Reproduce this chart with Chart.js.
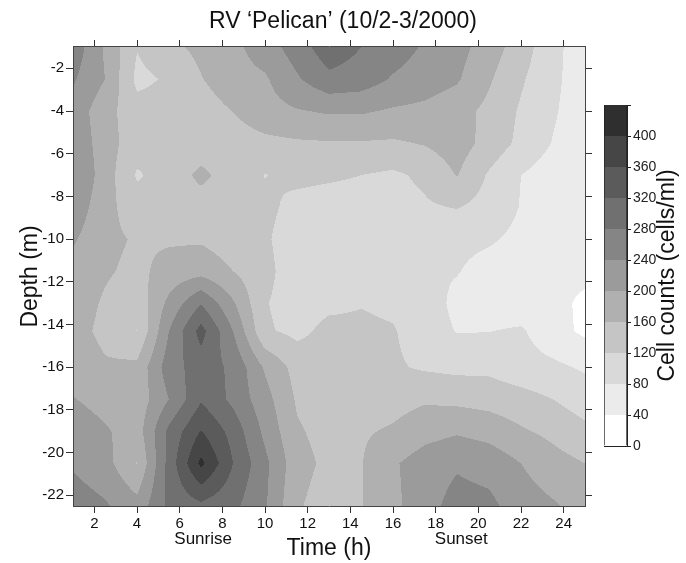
<!DOCTYPE html>
<html><head><meta charset="utf-8">
<script src="https://cdn.jsdelivr.net/npm/chart.js@4"></script>
<style>
html,body{margin:0;padding:0;background:#fff;}
#wrap{position:relative;width:686px;height:563px;overflow:hidden;}
canvas{position:absolute;left:0;top:0;}
</style></head><body>
<div id="wrap">
<canvas id="main" width="686" height="563"></canvas>
<canvas id="bar" width="686" height="563"></canvas>
</div>
<script>
// Sampling grid (time in h, depth in m)
const times  = [1, 2.5, 4, 5.5, 7, 8.5, 10, 11.5, 13, 14.5, 16, 17.5, 19, 20.5, 22, 23.5, 25];
const depths = [-1, -2.5, -4, -5.5, -7, -8.5, -10, -11.5, -13, -14.3, -16, -17.5, -19, -20.5, -22.5];

// Cell counts (cells/ml), one array per depth, values along times
const cells_d1_0  = [265, 195, 122, 150, 170, 190, 220, 260, 305, 280, 260, 235, 215, 180, 140, 90, 60];
const cells_d2_5  = [245, 200, 110, 125, 158, 185, 195, 235, 270, 262, 236, 220, 205, 165, 125, 90, 55];
const cells_d4_0  = [225, 175, 135, 135, 140, 161, 185, 197, 205, 205, 195, 190, 175, 150, 115, 85, 55];
const cells_d5_5  = [230, 180, 135, 130, 135, 140, 150, 155, 157, 157, 155, 163, 180, 145, 110, 78, 55];
const cells_d7_0  = [243, 180, 116, 135, 170, 140, 119, 128, 125, 120, 113, 128, 162, 115, 80, 60, 50];
const cells_d8_5  = [225, 175, 135, 140, 140, 135, 128, 110, 105, 105, 105, 115, 122, 105, 78, 55, 50];
const cells_d10_0 = [205, 170, 156, 155, 155, 140, 125, 100, 95, 95, 95, 95, 90, 85, 70, 55, 48];
const cells_d11_5 = [185, 165, 150, 175, 185, 160, 130, 100, 95, 90, 90, 85, 82, 65, 55, 48, 50];
const cells_d13_0 = [180, 155, 135, 210, 278, 205, 122, 105, 112, 118, 112, 100, 70, 60, 55, 52, 32];
const cells_d14_3 = [175, 150, 119, 240, 335, 240, 125, 110, 130, 128, 123, 100, 78, 79, 85, 55, 32];
const cells_d16_0 = [185, 165, 170, 262, 300, 272, 195, 145, 140, 135, 125, 115, 110, 110, 95, 88, 75];
const cells_d17_5 = [202, 185, 175, 240, 315, 270, 215, 155, 140, 140, 145, 155, 150, 145, 135, 120, 100];
const cells_d19_0 = [225, 205, 180, 290, 362, 305, 230, 165, 145, 155, 165, 185, 195, 185, 165, 150, 130];
const cells_d20_5 = [235, 215, 158, 295, 410, 320, 250, 175, 150, 158, 195, 220, 235, 225, 200, 175, 160];
const cells_d22_5 = [260, 245, 215, 290, 310, 290, 245, 165, 140, 158, 190, 225, 255, 250, 220, 205, 185];
const cellRows = [cells_d1_0, cells_d2_5, cells_d4_0, cells_d5_5, cells_d7_0, cells_d8_5, cells_d10_0,
  cells_d11_5, cells_d13_0, cells_d14_3, cells_d16_0, cells_d17_5, cells_d19_0, cells_d20_5, cells_d22_5];

// Axis ticks
const timeTicks  = [2, 4, 6, 8, 10, 12, 14, 16, 18, 20, 22, 24];
const depthTicks = [-2, -4, -6, -8, -10, -12, -14, -16, -18, -20, -22];

// Contour levels and colours
const levels     = [0, 40, 80, 120, 160, 200, 240, 280, 320, 360, 400, 440];
const bandColors = ['#ffffff', '#ebebeb', '#d9d9d9', '#c5c5c5', '#b0b0b0', '#9b9b9b',
                    '#858585', '#707070', '#5b5b5b', '#464646', '#2f2f2f'];

// Event annotations
const eventTimes = [7.1, 19.2];
const eventNames = ['Sunrise', 'Sunset'];

const FONT = "'Liberation Sans', Arial, Helvetica, sans-serif";
Chart.defaults.font.family = FONT;
Chart.defaults.color = '#111';

// points of the grid as a dataset
const gridPoints = [];
depths.forEach((d, j) => times.forEach((t, i) => gridPoints.push({x: t, y: d, v: cellRows[j][i]})));

function locate(arr, v) {
  for (let i = 0; i < arr.length - 1; i++) {
    const a = arr[i], b = arr[i + 1];
    if ((v - a) * (v - b) <= 0) return [i, (v - a) / (b - a)];
  }
  if (Math.abs(v - arr[0]) < Math.abs(v - arr[arr.length - 1])) return [0, 0];
  return [arr.length - 2, 1];
}
function hexToRgb(h) { return [parseInt(h.substr(1,2),16), parseInt(h.substr(3,2),16), parseInt(h.substr(5,2),16)]; }

const contourPlugin = {
  id: 'contourFill',
  beforeDraw(chart) {
    const {ctx, chartArea: a, scales} = chart;
    const ds = chart.data.datasets[0].data;
    const nT = times.length;
    const val = (j, i) => ds[j * nT + i].v;
    const x0 = Math.floor(a.left), x1 = Math.ceil(a.right), y0 = Math.floor(a.top), y1 = Math.ceil(a.bottom);
    const w = x1 - x0, h = y1 - y0;
    const off = document.createElement('canvas');
    off.width = w; off.height = h;
    const octx = off.getContext('2d');
    const img = octx.createImageData(w, h);
    const rgb = bandColors.map(hexToRgb);
    const colLoc = [], rowLoc = [];
    for (let px = 0; px < w; px++) colLoc.push(locate(times, scales.x.getValueForPixel(x0 + px + 0.5)));
    for (let py = 0; py < h; py++) rowLoc.push(locate(depths, scales.y.getValueForPixel(y0 + py + 0.5)));
    for (let py = 0; py < h; py++) {
      const [j, g] = rowLoc[py];
      for (let px = 0; px < w; px++) {
        const [i, f] = colLoc[px];
        const v = (1 - g) * ((1 - f) * val(j, i) + f * val(j, i + 1)) + g * ((1 - f) * val(j + 1, i) + f * val(j + 1, i + 1));
        let b = Math.floor(v / 40); if (b < 0) b = 0; if (b > 10) b = 10;
        const c = rgb[b], k = (py * w + px) * 4;
        img.data[k] = c[0]; img.data[k+1] = c[1]; img.data[k+2] = c[2]; img.data[k+3] = 255;
      }
    }
    octx.putImageData(img, 0, 0);
    ctx.save();
    ctx.beginPath(); ctx.rect(a.left, a.top, a.right - a.left, a.bottom - a.top); ctx.clip();
    ctx.drawImage(off, x0, y0);
    ctx.restore();
  },
  afterDraw(chart) {
    const {ctx, scales} = chart;
    ctx.save();
    ctx.fillStyle = '#111';
    ctx.font = '17px ' + FONT;
    ctx.textAlign = 'center'; ctx.textBaseline = 'middle';
    eventTimes.forEach((t, k) => ctx.fillText(eventNames[k], scales.x.getPixelForValue(t), 539));
    ctx.restore();
  }
};

const tickGrid = {drawOnChartArea: false, drawTicks: true, tickLength: 7, color: '#333', lineWidth: 1};
const border = {display: true, color: '#444', width: 1};

new Chart(document.getElementById('main'), {
  type: 'scatter',
  data: {datasets: [{data: gridPoints, pointRadius: 0, pointHoverRadius: 0, showLine: false}]},
  plugins: [contourPlugin],
  options: {
    responsive: false, animation: false, devicePixelRatio: 1,
    layout: {padding: 0},
    events: [],
    plugins: {
      legend: {display: false}, tooltip: {enabled: false},
      title: {display: true, text: 'RV \u2018Pelican\u2019 (10/2-3/2000)', color: '#111',
        font: {size: 23, weight: 'normal', family: FONT}, padding: {top: 8, bottom: 0}}
    },
    scales: {
      x: {type: 'linear', position: 'bottom', min: 1, max: 25,
        afterBuildTicks: s => { s.ticks = timeTicks.map(v => ({value: v})); },
        ticks: {font: {size: 15}, color: '#111', padding: 2, maxRotation: 0, autoSkip: false},
        grid: tickGrid, border: border,
        title: {display: true, text: 'Time (h)', font: {size: 23}, color: '#111', padding: {top: 0, bottom: 1}},
        afterFit: s => { s.height = 57; }},
      x2: {type: 'linear', position: 'top', min: 1, max: 25,
        afterBuildTicks: s => { s.ticks = timeTicks.map(v => ({value: v})); },
        ticks: {display: false}, grid: tickGrid, border: border,
        afterFit: s => { s.height = 11.4; }},
      y: {type: 'linear', position: 'left', min: -22.5, max: -1,
        afterBuildTicks: s => { s.ticks = depthTicks.map(v => ({value: v})); },
        ticks: {font: {size: 15}, color: '#111', padding: 2, autoSkip: false},
        grid: tickGrid, border: border,
        title: {display: true, text: 'Depth (m)', font: {size: 23}, color: '#111', padding: {top: 17, bottom: 0}},
        afterFit: s => { s.width = 73; }},
      y2: {type: 'linear', position: 'right', min: -22.5, max: -1,
        afterBuildTicks: s => { s.ticks = depthTicks.map(v => ({value: v})); },
        ticks: {display: false}, grid: tickGrid, border: border,
        afterFit: s => { s.width = 101; }}
    }
  }
});

// Colour bar
const cbTitlePlugin = {
  id: 'cbTitle',
  afterDraw(chart) {
    const {ctx, chartArea: a} = chart;
    ctx.save();
    ctx.translate(668, (a.top + a.bottom) / 2);
    ctx.rotate(-Math.PI / 2);
    ctx.fillStyle = '#111';
    ctx.font = '23px ' + FONT;
    ctx.textAlign = 'center'; ctx.textBaseline = 'middle';
    ctx.fillText('Cell counts (cells/ml)', 0, 0);
    ctx.restore();
  }
};
new Chart(document.getElementById('bar'), {
  type: 'bar',
  data: {
    labels: ['cells'],
    datasets: bandColors.map((c, k) => ({
      label: levels[k] + '-' + levels[k + 1],
      data: [levels[k + 1] - levels[k]],
      backgroundColor: c, borderColor: '#222', borderWidth: {left: 1, right: 1, top: 0, bottom: 0},
      borderSkipped: false, barPercentage: 1, categoryPercentage: 1
    }))
  },
  plugins: [cbTitlePlugin],
  options: {
    responsive: false, animation: false, devicePixelRatio: 1, events: [],
    layout: {padding: {left: 604, top: 105, bottom: 117, right: 0}},
    plugins: {legend: {display: false}, tooltip: {enabled: false}, title: {display: false}},
    scales: {
      x: {display: false, stacked: true},
      y: {position: 'right', stacked: true, min: 0, max: 440,
        afterBuildTicks: s => { s.ticks = levels.map(v => ({value: v})); },
        ticks: {font: {size: 14}, color: '#222', padding: 2, autoSkip: false,
          callback: v => (v <= 400 ? String(v) : '')},
        grid: {drawOnChartArea: true, drawTicks: true, tickLength: 4, color: '#222', lineWidth: 1},
        border: {display: true, color: '#222'},
        afterFit: s => { s.width = 686 - 627; }}
    }
  }
});
</script>
</body></html>
